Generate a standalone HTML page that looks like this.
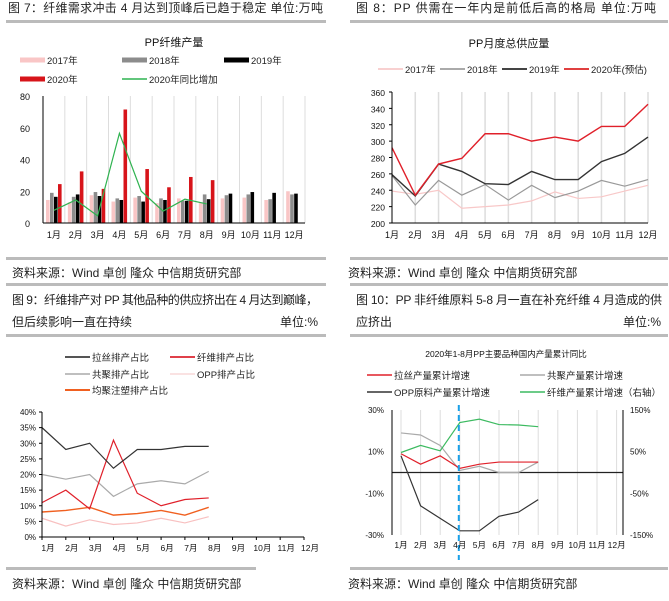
<!DOCTYPE html>
<html><head><meta charset="utf-8"><style>
body{margin:0;background:#fff;width:669px;height:596px;overflow:hidden;font-family:"Liberation Sans","Noto Sans CJK SC",sans-serif}
svg text{font-family:"Liberation Sans","Noto Sans CJK SC",sans-serif}
</style></head><body>
<svg id="s" width="669" height="596">
<g font-size="12" fill="#222">
<text x="8" y="12" font-size="12" textLength="315">图 7：纤维需求冲击 4 月达到顶峰后已趋于稳定  单位:万吨</text>
<text x="356" y="12" font-size="12" textLength="300">图 8：PP 供需在一年内是前低后高的格局        单位:万吨</text>
<rect x="6" y="20" width="320" height="3" fill="#bbb"/><rect x="350" y="20" width="318" height="3" fill="#bbb"/>
<rect x="6" y="257" width="320" height="3" fill="#bbb"/><rect x="350" y="257" width="318" height="3" fill="#bbb"/>
<text x="12" y="277" font-size="12">资料来源：Wind 卓创 隆众 中信期货研究部</text>
<text x="348" y="277" font-size="12">资料来源：Wind 卓创 隆众 中信期货研究部</text>
<rect x="6" y="283" width="320" height="3" fill="#bbb"/><rect x="350" y="283" width="318" height="3" fill="#bbb"/>
<text x="12" y="304" font-size="12" textLength="306">图 9：纤维排产对 PP 其他品种的供应挤出在 4 月达到巅峰，</text>
<text x="12" y="326" font-size="12">但后续影响一直在持续</text><text x="280" y="326" font-size="12">单位:%</text>
<text x="356" y="304" font-size="12" textLength="306">图 10：PP 非纤维原料 5-8 月一直在补充纤维 4 月造成的供</text>
<text x="356" y="326" font-size="12">应挤出</text><text x="623" y="326" font-size="12">单位:%</text>
<rect x="6" y="334" width="320" height="3" fill="#bbb"/><rect x="350" y="334" width="318" height="3" fill="#bbb"/>
<rect x="6" y="567" width="250" height="3" fill="#bbb"/><rect x="350" y="567" width="318" height="3" fill="#bbb"/>
<text x="12" y="588" font-size="12">资料来源：Wind 卓创 隆众 中信期货研究部</text>
<text x="348" y="588" font-size="12">资料来源：Wind 卓创 隆众 中信期货研究部</text>
</g>
<g id="c7"></g>
<g id="c8"></g>
<g id="c9"></g>
<g id="c10"></g>
</svg>
<script>
const months=["1月","2月","3月","4月","5月","6月","7月","8月","9月","10月","11月","12月"];
const f7_2017=[14.5,13,17.5,13.5,16,12.5,15.5,13,15.5,16,14.5,20];
const f7_2018=[19,16.5,19.5,15.5,17,15.5,14,18,17.5,18,15,18];
const f7_2019=[16.5,18,17,14.5,13.5,14.5,14,15,18.5,19.5,19,18.5];
const f7_2020=[24.5,32.5,21.5,71.5,34,22.5,29,27];
const f7_yoy=[8,14.5,4.5,56.5,20,7.5,15,12];
const f7_ticks=[0,20,40,60,80];
const s8_2017=[239,235,240,218,220,222,227,238,230,232,239,246];
const s8_2018=[258,222,252,234,247,228,246,231,239,252,245,253];
const s8_2019=[259,233,272,263,248,247,263,253,253,275,285,305];
const s8_2020=[292,234,272,279,309,309,300,305,300,318,318,345];
const s8_ticks=[200,220,240,260,280,300,320,340,360];
const p9_lasi=[35,28,30,22,28,28,29,29];
const p9_fiber=[11,15,9,31,14,10,12,12.5];
const p9_copo=[20,18.5,20,13,17,18,17,21];
const p9_bopp=[6,3.5,5.5,4,4.5,6,4.5,6.5];
const p9_homo=[8,8.5,9.5,7,7.5,8.5,7,9.5];
const p9_ticks=[0,5,10,15,20,25,30,35,40];
const g10_lasi=[9,4,8,2,4,5,5,5];
const g10_copo=[19,18,13,1,3,0,0,5];
const g10_bopp=[8,-16,-22,-28,-28,-21,-19,-13];
const g10_fiber=[48,65,52,120,128,115,114,110];
const g10_lticks=[-30,-10,10,30];
const g10_rticks=[-150,-50,50,150];
const NS="http://www.w3.org/2000/svg";
function mk(p,t,a,txt){const e=document.createElementNS(NS,t);for(const k in a)e.setAttribute(k,a[k]);if(txt!==undefined)e.textContent=txt;p.appendChild(e);return e;}
function poly(p,xs,ys,vals,col,w,name){const pts=vals.map((v,i)=>xs(i)+","+ys(v)).join(" ");const e=mk(p,"polyline",{points:pts,fill:"none",stroke:col,"stroke-width":w});

}
function leg(p,x,y,col,label,w,name){const g=mk(p,"g",{});


mk(g,"line",{x1:x,y1:y,x2:x+25,y2:y,stroke:col,"stroke-width":w});mk(g,"text",{x:x+27,y:y+4,"font-size":"9.5",fill:"#222"},label);}
// chart 7
(function(){const g=document.getElementById("c7");const x0=43,x1=305,yb=223,yt=96,bw=(x1-x0)/12;
const y=v=>yb-(v/80)*(yb-yt);
mk(g,"text",{x:174,y:46,"font-size":"11","text-anchor":"middle",fill:"#111"},"PP纤维产量");
[["#f9c6c6","2017年",20,60],["#8c8c8c","2018年",122,60],["#000","2019年",224,60],["#d7141a","2020年",20,79]].forEach(a=>leg(g,a[2],a[3],a[0],a[1],5,"legend-"+a[1]));
leg(g,122,79,"#2fb350","2020年同比增加",1.5,"legend-yoy");
for(let i=1;i<=12;i++)mk(g,"line",{x1:x0+i*bw,y1:yt,x2:x0+i*bw,y2:yb,stroke:"#ddd"});
f7_ticks.forEach(t=>mk(g,"text",{x:30,y:y(t)+4,"font-size":"9","text-anchor":"end",fill:"#111"},t));
const sers=[[f7_2017,"#f9c6c6"],[f7_2018,"#8c8c8c"],[f7_2019,"#000"],[f7_2020,"#d7141a"]];
sers.forEach((s,k)=>s[0].forEach((v,i)=>{const r=mk(g,"rect",{x:x0+i*bw+3+k*4,y:y(v),width:3.6,height:yb-y(v),fill:s[1]});

}));
poly(g,i=>x0+i*bw+bw/2,y,f7_yoy,"#2fb350",1.2,"yoy-line");
mk(g,"line",{x1:x0,y1:yt,x2:x0,y2:yb,stroke:"#000"});mk(g,"line",{x1:x0,y1:yb,x2:x1,y2:yb,stroke:"#000"});
months.forEach((m,i)=>mk(g,"text",{x:x0+i*bw+bw/2,y:238,"font-size":"9","text-anchor":"middle",fill:"#111"},m));
})();
// chart 8
(function(){const g=document.getElementById("c8");const x0=392,x1=648,yb=223,yt=92,dx=(x1-x0)/11;
const y=v=>yb-(v-200)/160*(yb-yt),xs=i=>x0+i*dx;
mk(g,"text",{x:509,y:47,"font-size":"11","text-anchor":"middle",fill:"#111"},"PP月度总供应量");
[["#f8d0d0","2017年",378],["#aaa","2018年",440],["#444","2019年",502],["#e04040","2020年(预估)",564]].forEach(a=>leg(g,a[2],69,a[0],a[1],2,"legend-"+a[1]));
for(let i=1;i<12;i++)mk(g,"line",{x1:xs(i),y1:yt,x2:xs(i),y2:yb,stroke:"#ddd","stroke-width":1.5});
s8_ticks.forEach(t=>{mk(g,"text",{x:385,y:y(t)+4,"font-size":"8.5","text-anchor":"end",fill:"#111"},t);mk(g,"line",{x1:x0-3,y1:y(t),x2:x0,y2:y(t),stroke:"#000"});});
poly(g,xs,y,s8_2017,"#f8c8c8",1.2,"line-2017");poly(g,xs,y,s8_2018,"#999",1.2,"line-2018");
poly(g,xs,y,s8_2019,"#333",1.4,"line-2019");poly(g,xs,y,s8_2020,"#e0202a",1.4,"line-2020");
mk(g,"line",{x1:x0,y1:yt,x2:x0,y2:yb,stroke:"#000"});mk(g,"line",{x1:x0,y1:yb,x2:x1,y2:yb,stroke:"#000"});
months.forEach((m,i)=>mk(g,"text",{x:xs(i),y:238,"font-size":"9","text-anchor":"middle",fill:"#111"},m));
})();
// chart 9
(function(){const g=document.getElementById("c9");const x0=42,x1=304,yb=537,yt=412,dx=(x1-x0)/11;
const y=v=>yb-v/40*(yb-yt),xs=i=>x0+i*dx;
leg(g,65,357,"#555","拉丝排产占比",2,"legend-lasi");leg(g,170,357,"#e0404a","纤维排产占比",2,"legend-fiber");
leg(g,65,374,"#999","共聚排产占比",1.2,"legend-copo");leg(g,170,374,"#f8d0d0","OPP排产占比",1.2,"legend-bopp");
leg(g,65,390,"#f06020","均聚注塑排产占比",2,"legend-homo");
p9_ticks.forEach(t=>{mk(g,"text",{x:36,y:y(t)+3,"font-size":"8","text-anchor":"end",fill:"#111"},t+"%");mk(g,"line",{x1:x0-3,y1:y(t),x2:x0,y2:y(t),stroke:"#000"});});
poly(g,xs,y,p9_bopp,"#f8c0c0",1.2,"line-bopp");poly(g,xs,y,p9_homo,"#f06020",1.4,"line-homo");
poly(g,xs,y,p9_copo,"#aaa",1.2,"line-copo");poly(g,xs,y,p9_fiber,"#e0202a",1.2,"line-fiber");poly(g,xs,y,p9_lasi,"#333",1.2,"line-lasi");
mk(g,"line",{x1:x0,y1:yt,x2:x0,y2:yb,stroke:"#000"});mk(g,"line",{x1:x0,y1:yb,x2:x1,y2:yb,stroke:"#000"});
months.forEach((m,i)=>{mk(g,"line",{x1:xs(i),y1:yb,x2:xs(i),y2:yb+3,stroke:"#000"});mk(g,"text",{x:xs(i)+6,y:551,"font-size":"8.5","text-anchor":"middle",fill:"#111"},m);});
})();
// chart 10
(function(){const g=document.getElementById("c10");const xl=392,xr=623,yt=410,yb=535,x0=401,dx=19.6;
const y=v=>yt+(30-v)/60*(yb-yt),yr=v=>yt+(150-v)/300*(yb-yt),xs=i=>x0+i*dx;
mk(g,"text",{x:506,y:357,"font-size":"8.5","text-anchor":"middle",fill:"#111"},"2020年1-8月PP主要品种国内产量累计同比");
leg(g,367,375,"#e0202a","拉丝产量累计增速",1.5,"legend-lasi");leg(g,520,375,"#aaa","共聚产量累计增速",1.5,"legend-copo");
leg(g,367,392,"#333","OPP原料产量累计增速",1.5,"legend-bopp");leg(g,520,392,"#3cba60","纤维产量累计增速（右轴）",1.5,"legend-fiber");
for(let i=0;i<12;i++)mk(g,"line",{x1:xs(i),y1:yt,x2:xs(i),y2:yb,stroke:"#ddd"});
g10_lticks.forEach(t=>mk(g,"text",{x:384,y:y(t)+3,"font-size":"8","text-anchor":"end",fill:"#111"},t+"%"));
g10_rticks.forEach(t=>mk(g,"text",{x:630,y:yr(t)+3,"font-size":"8",fill:"#111"},t+"%"));
mk(g,"line",{x1:xl,y1:y(0),x2:xr,y2:y(0),stroke:"#222","stroke-width":1.2});
poly(g,xs,y,g10_copo,"#aaa",1.2,"line-copo");poly(g,xs,y,g10_lasi,"#e0202a",1.2,"line-lasi");
poly(g,xs,y,g10_bopp,"#333",1.2,"line-bopp");poly(g,xs,yr,g10_fiber,"#3cba60",1.2,"line-fiber");
mk(g,"line",{x1:xl,y1:yt,x2:xl,y2:yb,stroke:"#000"});mk(g,"line",{x1:xr,y1:yt,x2:xr,y2:yb,stroke:"#000"});
mk(g,"line",{x1:xs(3)-1,y1:yt-5,x2:xs(3)-1,y2:560,stroke:"#1aa0e8","stroke-width":2,"stroke-dasharray":"6,4"});
months.forEach((m,i)=>mk(g,"text",{x:xs(i),y:548,"font-size":"8.5","text-anchor":"middle",fill:"#111"},m));
})();
</script>
</body></html>
